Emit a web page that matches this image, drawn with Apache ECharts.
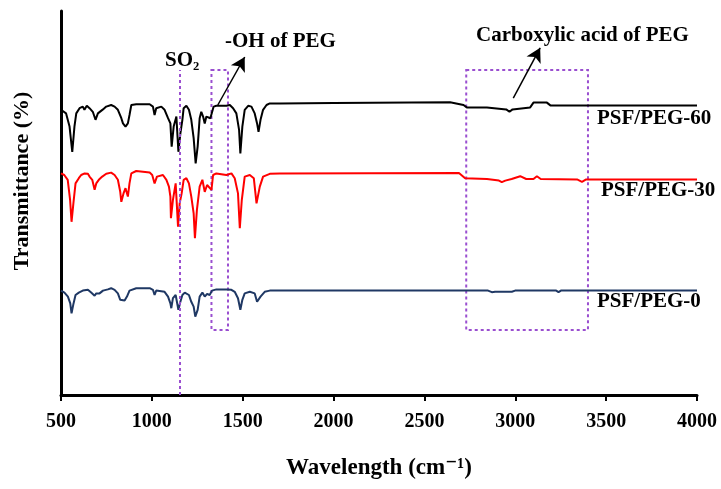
<!DOCTYPE html>
<html>
<head>
<meta charset="utf-8">
<script src="https://cdn.jsdelivr.net/npm/echarts@6/dist/echarts.min.js"></script>
<style>
  html, body { margin: 0; padding: 0; background: #fff; }
  #chart { width: 721px; height: 489px; }
</style>
</head>
<body>
<div id="chart"></div>
<script>
// x ticks
const xTicks = [500, 1000, 1500, 2000, 2500, 3000, 3500, 4000];

// spectra, [wavenumber, transmittance] (offset per sample as in the figure)
const peg60 = [
  [500, 71.3], [528, 70.4], [547, 67.1], [562, 60.8], [574, 67.1], [584, 70.4], [602, 71.7],
  [620, 72.1], [629, 71.3], [642, 72.3], [657, 71.7], [675, 70.8], [690, 68.8], [703, 70.4],
  [712, 70.8], [731, 71.4], [749, 72.1], [776, 72.5], [795, 72.1], [813, 71.3], [832, 69.2],
  [841, 67.9], [855, 67.1], [868, 67.9], [877, 70.0], [887, 72.5], [914, 72.7], [988, 72.7],
  [1006, 72.1], [1015, 70.0], [1024, 71.7], [1052, 72.1], [1070, 71.3], [1089, 69.2],
  [1102, 67.9], [1109, 62.1], [1120, 67.1], [1135, 69.6], [1146, 60.8], [1157, 65.4],
  [1168, 68.8], [1175, 71.7], [1190, 72.3], [1204, 71.3], [1217, 68.8], [1230, 64.2],
  [1241, 57.9], [1252, 62.1], [1263, 69.2], [1272, 70.8], [1282, 69.6], [1291, 67.9],
  [1300, 69.6], [1309, 70.0], [1322, 69.2], [1333, 68.8], [1340, 72.1], [1355, 72.3],
  [1410, 72.3], [1429, 72.5], [1447, 71.7], [1465, 70.4], [1480, 66.3], [1487, 60.4],
  [1498, 67.1], [1511, 71.3], [1530, 72.3], [1548, 72.1], [1566, 70.4], [1579, 67.9],
  [1587, 65.8], [1598, 68.8], [1612, 71.3], [1631, 72.5], [1649, 72.9], [1704, 72.9],
  [2000, 73.0], [2641, 73.2], [2715, 72.5], [2733, 71.9], [2844, 71.9], [2853, 71.4],
  [2950, 71.4], [2968, 70.8], [2985, 71.4], [2990, 71.9], [3082, 71.9], [3100, 73.1],
  [3174, 73.1], [3193, 72.4], [3285, 72.4], [3293, 71.9], [3300, 72.4], [4000, 72.4]
];

const peg30 = [
  [500, 55.4], [518, 55.0], [537, 53.8], [550, 48.8], [558, 43.3], [569, 48.3], [580, 52.9],
  [598, 54.2], [611, 55.0], [630, 55.4], [648, 55.3], [657, 54.6], [672, 53.8], [685, 51.3],
  [694, 52.9], [708, 53.8], [727, 54.6], [749, 55.3], [776, 55.6], [795, 55.0], [813, 53.8],
  [826, 50.8], [832, 48.3], [844, 50.4], [855, 51.7], [868, 49.6], [877, 52.9], [887, 55.4],
  [914, 56.0], [988, 55.6], [1002, 55.0], [1015, 52.9], [1028, 54.6], [1061, 55.0],
  [1080, 53.8], [1094, 52.1], [1102, 49.6], [1105, 44.2], [1116, 48.8], [1131, 52.9],
  [1144, 42.1], [1153, 47.9], [1164, 50.4], [1175, 53.8], [1190, 54.2], [1204, 52.9],
  [1217, 49.6], [1230, 45.4], [1237, 39.2], [1248, 46.3], [1263, 52.1], [1278, 53.8],
  [1291, 50.8], [1304, 52.5], [1315, 52.1], [1328, 51.3], [1337, 55.0], [1355, 55.4],
  [1410, 55.0], [1438, 55.4], [1456, 54.2], [1474, 50.4], [1484, 41.7], [1495, 48.8],
  [1511, 54.6], [1539, 55.0], [1561, 54.2], [1576, 47.9], [1585, 47.9], [1594, 52.1],
  [1612, 54.6], [1649, 55.3], [1704, 55.4], [2690, 55.5], [2724, 54.2], [2844, 54.0],
  [2910, 53.6], [2926, 53.2], [2945, 53.6], [2980, 54.0], [3027, 54.7], [3060, 54.0],
  [3100, 54.0], [3119, 54.7], [3140, 54.0], [3340, 53.9], [3367, 53.3], [3390, 53.9],
  [4000, 53.9]
];

const peg0 = [
  [500, 26.1], [519, 25.6], [538, 24.6], [551, 22.9], [558, 20.4], [569, 22.9], [580, 25.0],
  [598, 25.6], [620, 26.1], [648, 26.3], [666, 25.6], [685, 24.8], [694, 25.4], [712, 25.4],
  [731, 26.1], [758, 26.4], [776, 26.7], [795, 26.3], [813, 25.4], [826, 23.8], [837, 24.2],
  [850, 23.6], [863, 24.6], [877, 26.1], [914, 26.7], [988, 26.7], [1006, 26.3], [1015, 25.0],
  [1024, 26.1], [1070, 25.8], [1089, 24.6], [1102, 22.9], [1107, 21.7], [1116, 24.2],
  [1131, 25.0], [1146, 21.3], [1157, 23.3], [1168, 25.0], [1181, 25.6], [1204, 25.0],
  [1217, 23.3], [1230, 22.1], [1239, 19.6], [1252, 21.3], [1263, 24.6], [1278, 25.6],
  [1291, 24.6], [1304, 25.3], [1318, 25.0], [1331, 26.1], [1355, 26.4], [1410, 26.4],
  [1438, 26.3], [1456, 25.8], [1474, 24.2], [1487, 21.3], [1498, 23.8], [1511, 25.4],
  [1539, 25.8], [1566, 25.4], [1579, 23.3], [1586, 22.9], [1598, 24.6], [1621, 25.8],
  [1649, 26.1], [1704, 26.1], [2850, 26.1], [2871, 25.7], [2889, 25.8], [2981, 25.8],
  [2999, 26.1], [3225, 26.1], [3238, 25.7], [3251, 26.1], [4000, 26.1]
];

// annotations, in data coordinates
const so2Line = [[1153, 0], [1153, 81.25]];
const ohBox = [[1328, 81.25], [1419, 16.25]];
const acidBox = [[2730, 81.25], [3400, 16.25]];
const ohArrow = [[1363, 72.5], [1511, 84.5]];
const acidArrow = [[2989, 74.2], [3137, 86.8]];

const serif = '"Liberation Serif", "DejaVu Serif", serif';
const purple = '#9a4fd0';

const chart = echarts.init(document.getElementById('chart'));

const lineSeries = (name, data, color) => ({
  name: name,
  type: 'line',
  data: data,
  showSymbol: false,
  symbol: 'none',
  sampling: null,
  lineStyle: { color: color, width: 2 },
  z: 3
});

const boxStyle = {
  color: 'rgba(0,0,0,0)',
  borderColor: purple,
  borderWidth: 2,
  borderType: [3, 3]
};

chart.setOption({
  animation: false,
  backgroundColor: '#fff',
  grid: { left: 61, right: 24, top: 11, bottom: 94 },
  xAxis: {
    type: 'value',
    min: 500,
    max: 4000,
    interval: 500,
    name: 'Wavelength (cm\u207B\u00B9)',
    nameLocation: 'middle',
    nameGap: 62,
    nameTextStyle: { fontFamily: serif, fontWeight: 'bold', fontSize: 23, color: '#000' },
    axisLine: { lineStyle: { color: '#000', width: 3 } },
    axisTick: { length: 6, lineStyle: { color: '#000', width: 2 } },
    axisLabel: {
      margin: 17,
      fontFamily: serif, fontWeight: 'bold', fontSize: 20, color: '#000',
      formatter: v => (xTicks.includes(v) ? String(v) : '')
    },
    splitLine: { show: false }
  },
  yAxis: {
    type: 'value',
    min: 0,
    max: 96,
    name: 'Transmittance (%)',
    nameLocation: 'middle',
    nameRotate: 90,
    nameGap: 28,
    nameTextStyle: {
      fontFamily: serif, fontWeight: 'bold', fontSize: 22, color: '#000',
      padding: [0, 0, 0, 44]
    },
    axisLine: { show: true, lineStyle: { color: '#000', width: 3 } },
    axisTick: { show: false },
    axisLabel: { show: false },
    splitLine: { show: false }
  },
  series: [
    lineSeries('PSF/PEG-60', peg60, '#000000'),
    lineSeries('PSF/PEG-30', peg30, '#ff0000'),
    lineSeries('PSF/PEG-0', peg0, '#1f3864'),
    {
      name: 'marks',
      type: 'line',
      data: [],
      silent: true,
      z: 2,
      markLine: {
        silent: true,
        symbol: 'none',
        label: { show: false },
        lineStyle: { color: purple, width: 2, type: [3, 3] },
        data: [[{ coord: so2Line[0] }, { coord: so2Line[1] }]]
      },
      markArea: {
        silent: true,
        itemStyle: boxStyle,
        label: { show: false },
        data: [
          [{ coord: ohBox[0] }, { coord: ohBox[1] }],
          [{ coord: acidBox[0] }, { coord: acidBox[1] }]
        ]
      }
    },
    {
      name: 'arrows',
      type: 'line',
      data: [],
      silent: true,
      z: 4,
      markLine: {
        silent: true,
        symbol: ['none', 'arrow'],
        symbolSize: [12, 14],
        label: { show: false },
        lineStyle: { color: '#000', width: 1.5, type: 'solid' },
        data: [
          [{ coord: ohArrow[0] }, { coord: ohArrow[1] }],
          [{ coord: acidArrow[0] }, { coord: acidArrow[1] }]
        ]
      }
    }
  ],
  graphic: [
    { type: 'text', left: 165, top: 50, style: { text: 'SO\u2082', fontFamily: serif, fontWeight: 'bold', fontSize: 21, fill: '#000' } },
    { type: 'text', left: 225, top: 31, style: { text: '-OH of PEG', fontFamily: serif, fontWeight: 'bold', fontSize: 21, fill: '#000' } },
    { type: 'text', left: 476, top: 25, style: { text: 'Carboxylic acid of PEG', fontFamily: serif, fontWeight: 'bold', fontSize: 21, fill: '#000' } },
    { type: 'text', left: 597, top: 108, style: { text: 'PSF/PEG-60', fontFamily: serif, fontWeight: 'bold', fontSize: 21, fill: '#000' } },
    { type: 'text', left: 601, top: 180, style: { text: 'PSF/PEG-30', fontFamily: serif, fontWeight: 'bold', fontSize: 21, fill: '#000' } },
    { type: 'text', left: 597, top: 291, style: { text: 'PSF/PEG-0', fontFamily: serif, fontWeight: 'bold', fontSize: 21, fill: '#000' } }
  ]
});
</script>
</body>
</html>
